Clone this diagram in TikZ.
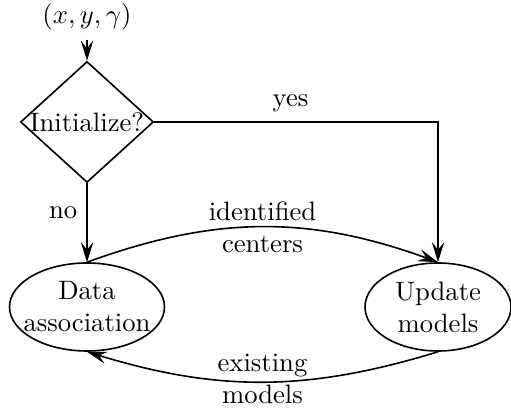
\documentclass[tikz,border=0pt]{standalone}
\usetikzlibrary{shapes.geometric,arrows.meta}
\newcommand{\pxu}{0.375pt}
\begin{document}
\begin{tikzpicture}[x=\pxu,y=-\pxu,
  conn/.style={semithick,-{Stealth[length=7.5pt,width=4.6pt,inset=2.8pt]}},
  decision/.style={diamond,draw,semithick,inner sep=0pt,minimum width=133*\pxu,minimum height=121*\pxu},
  proc/.style={ellipse,draw,semithick,inner sep=0pt,minimum height=88*\pxu},
  lab/.style={align=center}]
\useasboundingbox (0,0) rectangle (511,412);
\node (in) at (87,17) {$(x,y,\gamma)$};
\node[decision,label={center:Initialize?}] (init) at (87,122) {};
\node[proc,minimum width=155*\pxu,label={[lab]center:Data\\association}] (data) at (87,307) {};
\node[proc,minimum width=146*\pxu,label={[lab]center:Update\\models}] (upd) at (438,307) {};
\draw[conn] (in) -- (init.north);
\draw[conn] (init.east) -| node[pos=0.24,above] {yes} (upd.north);
\draw[conn] (init.south) -- node[pos=0.37,left] {no} (data.north);
\draw[conn] (data.north) to[bend left=20] node[lab,midway] {identified\\centers} (upd.north);
\draw[conn] (upd.south) to[bend left=17] node[lab,midway,yshift=1pt] {existing\\models} (data.south);
\end{tikzpicture}
\end{document}
